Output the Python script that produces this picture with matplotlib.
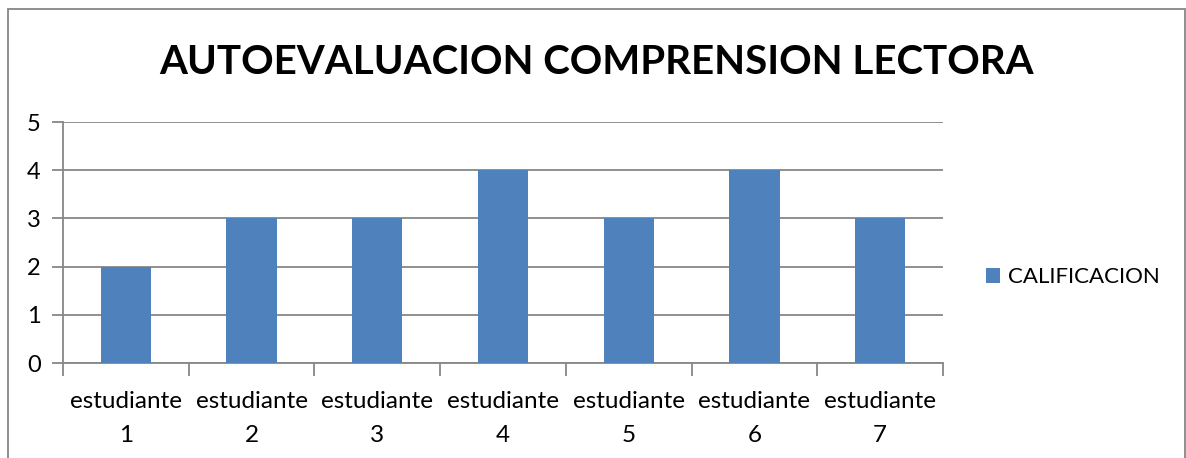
import numpy as np
import matplotlib
matplotlib.use("Agg")
import matplotlib.pyplot as plt
from matplotlib.patches import Rectangle

# data
estudiantes = ["estudiante\n1", "estudiante\n2", "estudiante\n3", "estudiante\n4",
               "estudiante\n5", "estudiante\n6", "estudiante\n7"]
calificacion = [2, 3, 3, 4, 3, 4, 3]
y_ticks = [0, 1, 2, 3, 4, 5]

plt.rcParams['font.family'] = ['Lato', 'DejaVu Sans']

W, H = 1186, 458
fig = plt.figure(figsize=(W / 100, H / 100), dpi=100)
ax = fig.add_axes([63 / W, 1 - 363 / H, (943 - 63) / W, (363 - 122) / H])

blue = '#4F81BD'
grid_gray = '#878787'

x = np.arange(len(calificacion))
ax.bar(x, calificacion, width=0.4, color=blue, zorder=3, label='CALIFICACION')

ax.set_xlim(-0.5, len(calificacion) - 0.5)
ax.set_ylim(0, 5)
ax.set_yticks(y_ticks)
ax.set_yticklabels([str(v) for v in y_ticks], fontsize=17)
ax.yaxis.grid(True, color=grid_gray, linewidth=1.3, zorder=0)

# category labels between boundary ticks
ax.set_xticks(x)
ax.set_xticklabels(estudiantes, fontsize=17.5, linespacing=1.75)
ax.tick_params(axis='x', length=0, pad=20)
ax.set_xticks(np.arange(-0.5, len(calificacion)), minor=True)
ax.tick_params(axis='x', which='minor', length=9, color=grid_gray, width=1.3)
ax.tick_params(axis='y', length=8, color=grid_gray, width=1.3, pad=8)

for s in ['top', 'right']:
    ax.spines[s].set_visible(False)
for s in ['left', 'bottom']:
    ax.spines[s].set_color(grid_gray)
    ax.spines[s].set_linewidth(1.3)

fig.text(0.5 * (158 + 1035) / W, 1 - 62 / H, 'AUTOEVALUACION COMPRENSION LECTORA',
         ha='center', va='center', fontsize=29, fontweight='bold')

ax.legend(loc='center left', bbox_to_anchor=(966 / W, 1 - 277 / H),
          bbox_transform=fig.transFigure, frameon=False, fontsize=16,
          handlelength=0.65, handleheight=0.65, handletextpad=0.35)

# chart border (bottom edge cut off in the reference)
fig.add_artist(Rectangle((8 / W, -0.05), (1185 - 8) / W, 1.05 - 9 / H,
                         transform=fig.transFigure, fill=False,
                         edgecolor='#868686', linewidth=1.3))

fig.savefig('out.png', dpi=100)
